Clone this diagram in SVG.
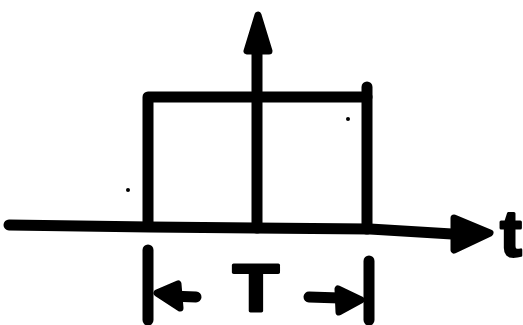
<svg xmlns="http://www.w3.org/2000/svg" width="523" height="325" viewBox="0 0 523 325">
  <style>
    .ln { fill: none; stroke: #000; stroke-width: 11; stroke-linecap: round; stroke-linejoin: round; }
    .hd { fill: #000; stroke: #000; stroke-width: 7; stroke-linejoin: round; }
    .lbl { font-family: "Liberation Sans", Arial, sans-serif; font-weight: bold; fill: #000; stroke: #000; stroke-width: 3; stroke-linejoin: round; text-anchor: middle; }
  </style>
  <rect width="523" height="325" fill="#fff"/>
  <g id="connectors">
    <g id="t-axis">
      <polyline class="ln" points="9,225 150,227 370,229 452,234"/>
      <polygon class="hd" points="454,218 490,233 454,250"/>
    </g>
    <g id="amplitude-axis">
      <line class="ln" x1="257" y1="228" x2="257" y2="50"/>
      <polygon class="hd" points="258,15 247,51 269,51"/>
    </g>
    <g id="width-left">
      <line class="ln" x1="148" y1="250" x2="148" y2="320"/>
      <line class="ln" stroke-width="9" x1="170" y1="296" x2="196" y2="297"/>
      <polygon class="hd" points="157,293 178,284 180,308"/>
    </g>
    <g id="width-right">
      <line class="ln" x1="369" y1="261" x2="369" y2="320"/>
      <line class="ln" stroke-width="9" x1="309" y1="297" x2="340" y2="298"/>
      <polygon class="hd" points="361,300 338,289 339,312"/>
    </g>
  </g>
  <g id="pulse">
    <polyline class="ln" points="148,226 148,97 367,97"/>
    <line class="ln" x1="367" y1="87" x2="367" y2="229"/>
  </g>
  <g id="label-T">
    <text class="lbl" transform="translate(256,311) scale(1.15,1)" x="0" y="0" font-size="66" stroke-width="4">T</text>
  </g>
  <g id="label-t">
    <text class="lbl" x="511" y="256" font-size="64">t</text>
  </g>
  <g id="specks" fill="#000">
    <circle cx="128" cy="190" r="2"/>
    <circle cx="348" cy="119" r="2"/>
  </g>
</svg>
